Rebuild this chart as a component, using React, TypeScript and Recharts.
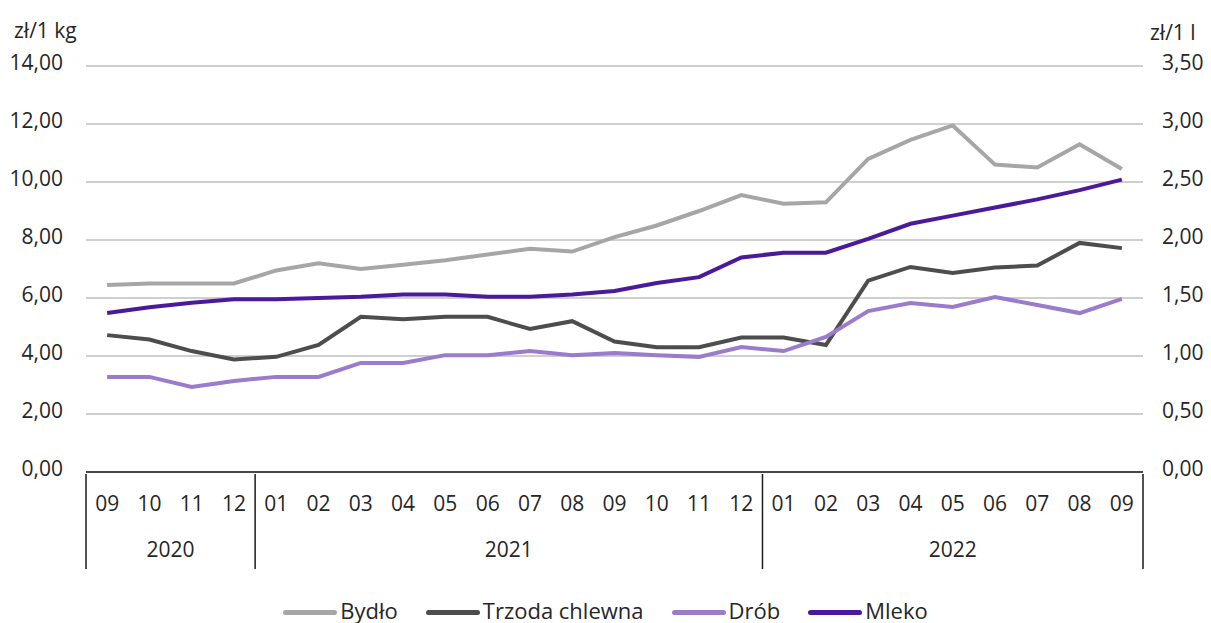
import { CartesianGrid, Legend, Line, LineChart, XAxis, YAxis } from "recharts";

const MONTHS = [
  "09", "10", "11", "12",
  "01", "02", "03", "04", "05", "06", "07", "08", "09", "10", "11", "12",
  "01", "02", "03", "04", "05", "06", "07", "08", "09",
];
const YEARS = [
  "2020", "2020", "2020", "2020",
  "2021", "2021", "2021", "2021", "2021", "2021", "2021", "2021", "2021", "2021", "2021", "2021",
  "2022", "2022", "2022", "2022", "2022", "2022", "2022", "2022", "2022",
];

const BYDLO = [
  6.45, 6.5, 6.5, 6.5, 6.95, 7.2, 7.0, 7.15, 7.3, 7.5, 7.7, 7.6, 8.1, 8.5, 9.0, 9.55,
  9.25, 9.3, 10.8, 11.45, 11.95, 10.6, 10.5, 11.3, 10.45,
];
const TRZODA = [
  4.72, 4.57, 4.17, 3.88, 3.97, 4.38, 5.35, 5.27, 5.35, 5.35, 4.93, 5.2, 4.5, 4.3, 4.3, 4.64,
  4.64, 4.38, 6.6, 7.07, 6.86, 7.05, 7.12, 7.9, 7.72,
];
const DROB = [
  3.28, 3.28, 2.93, 3.14, 3.28, 3.28, 3.76, 3.76, 4.03, 4.03, 4.17, 4.03, 4.1, 4.03, 3.97, 4.31,
  4.17, 4.66, 5.55, 5.83, 5.69, 6.03, 5.76, 5.48, 5.97,
];
const MLEKO = [
  1.37, 1.42, 1.46, 1.49, 1.49, 1.5, 1.51, 1.53, 1.53, 1.51, 1.51, 1.53, 1.56, 1.63, 1.68, 1.85,
  1.89, 1.89, 2.01, 2.14, 2.21, 2.28, 2.35, 2.43, 2.52,
];

const LEFT_TICKS = [0, 2, 4, 6, 8, 10, 12, 14];
const RIGHT_TICKS = [0, 0.5, 1, 1.5, 2, 2.5, 3, 3.5];

const SERIES = [
  { key: "bydlo", name: "Bydło", color: "#a6a6a6", axis: "left" },
  { key: "trzoda", name: "Trzoda chlewna", color: "#4d4d4d", axis: "left" },
  { key: "drob", name: "Drób", color: "#9a7bcc", axis: "left" },
  { key: "mleko", name: "Mleko", color: "#4b1a9c", axis: "right" },
];

const data = MONTHS.map((m, i) => ({
  month: m,
  year: YEARS[i],
  bydlo: BYDLO[i],
  trzoda: TRZODA[i],
  drob: DROB[i],
  mleko: MLEKO[i],
}));

const W = 1211;
const H = 623;
const LEFT_W = 86;
const RIGHT_W = 68;
const BAND = (W - LEFT_W - RIGHT_W) / MONTHS.length;
const FONT = "'Open Sans', 'Noto Sans', sans-serif";
const FS = 21;
const INK = "#262626";
const fmt = (v: number) => v.toFixed(2).replace(".", ",");

// month label + year grouping lines under the axis
function MonthTick({ x, y, index }: any) {
  const yr = YEARS[index];
  const first = index === 0 || YEARS[index - 1] !== yr;
  const last = index === YEARS.length - 1;
  const members = YEARS.map((v, j) => (v === yr ? j : -1)).filter((j) => j >= 0);
  const mid = (members[0] + members[members.length - 1]) / 2;
  const showYear = Math.floor(mid) === index;
  const yearX = x + (mid - index) * BAND;
  return (
    <g>
      <text x={x} y={y + 37} textAnchor="middle" fontSize={FS} fill={INK} fontFamily={FONT}>
        {MONTHS[index]}
      </text>
      {first && <line x1={x - BAND / 2} x2={x - BAND / 2} y1={y} y2={y + 95} stroke="#1a1a1a" strokeWidth={1.5} />}
      {last && <line x1={x + BAND / 2} x2={x + BAND / 2} y1={y} y2={y + 95} stroke="#1a1a1a" strokeWidth={1.5} />}
      {showYear && (
        <text x={yearX} y={y + 83} textAnchor="middle" fontSize={FS} fill={INK} fontFamily={FONT}>
          {yr}
        </text>
      )}
    </g>
  );
}

function LegendBox() {
  return (
    <div
      style={{
        display: "flex",
        justifyContent: "center",
        alignItems: "center",
        paddingTop: 33,
        height: 24,
        fontFamily: FONT,
        fontSize: 22,
        color: INK,
      }}
    >
      {SERIES.map((s) => (
        <div key={s.key} style={{ display: "flex", alignItems: "center", margin: "0 14px" }}>
          <span
            style={{
              display: "inline-block",
              width: 54,
              height: 5,
              borderRadius: 3,
              background: s.color,
              marginRight: 3,
              marginTop: 4,
            }}
          />
          <span>{s.name}</span>
        </div>
      ))}
    </div>
  );
}

export default function App() {
  return (
    <div style={{ position: "absolute", left: 0, top: 0, width: W, height: H, background: "#fff" }}>
      <LineChart width={W} height={H} data={data} margin={{ top: 66, right: 0, bottom: 5, left: 0 }}>
        <CartesianGrid vertical={false} stroke="#bfbfbf" strokeWidth={1.5} yAxisId="left" />
        <XAxis
          dataKey="month"
          height={93}
          interval={0}
          tickSize={0}
          tickLine={false}
          padding={{ left: BAND / 2, right: BAND / 2 }}
          axisLine={{ stroke: "#1a1a1a", strokeWidth: 1.5 }}
          tick={<MonthTick />}
        />
        <YAxis
          yAxisId="left"
          domain={[0, 14]}
          ticks={LEFT_TICKS}
          width={LEFT_W}
          tickSize={0}
          tickMargin={23}
          axisLine={false}
          tickLine={false}
          tickFormatter={fmt}
          tick={{ fontSize: FS, fill: INK, fontFamily: FONT, dy: -3 }}
          label={(p: any) => (
            <text x={14} y={p.viewBox.y - 28} fontSize={FS} fill={INK} fontFamily={FONT}>
              zł/1 kg
            </text>
          )}
        />
        <YAxis
          yAxisId="right"
          orientation="right"
          domain={[0, 3.5]}
          ticks={RIGHT_TICKS}
          width={RIGHT_W}
          tickSize={0}
          tickMargin={19}
          axisLine={false}
          tickLine={false}
          tickFormatter={fmt}
          tick={{ fontSize: FS, fill: INK, fontFamily: FONT, dy: -3 }}
          label={(p: any) => (
            <text x={p.viewBox.x + 7} y={p.viewBox.y - 26} fontSize={FS} fill={INK} fontFamily={FONT}>
              zł/1 l
            </text>
          )}
        />
        <Legend verticalAlign="bottom" height={53} content={<LegendBox />} />
        {SERIES.map((s) => (
          <Line
            key={s.key}
            yAxisId={s.axis}
            type="linear"
            dataKey={s.key}
            name={s.name}
            stroke={s.color}
            strokeWidth={4}
            dot={false}
            isAnimationActive={false}
          />
        ))}
      </LineChart>
    </div>
  );
}
